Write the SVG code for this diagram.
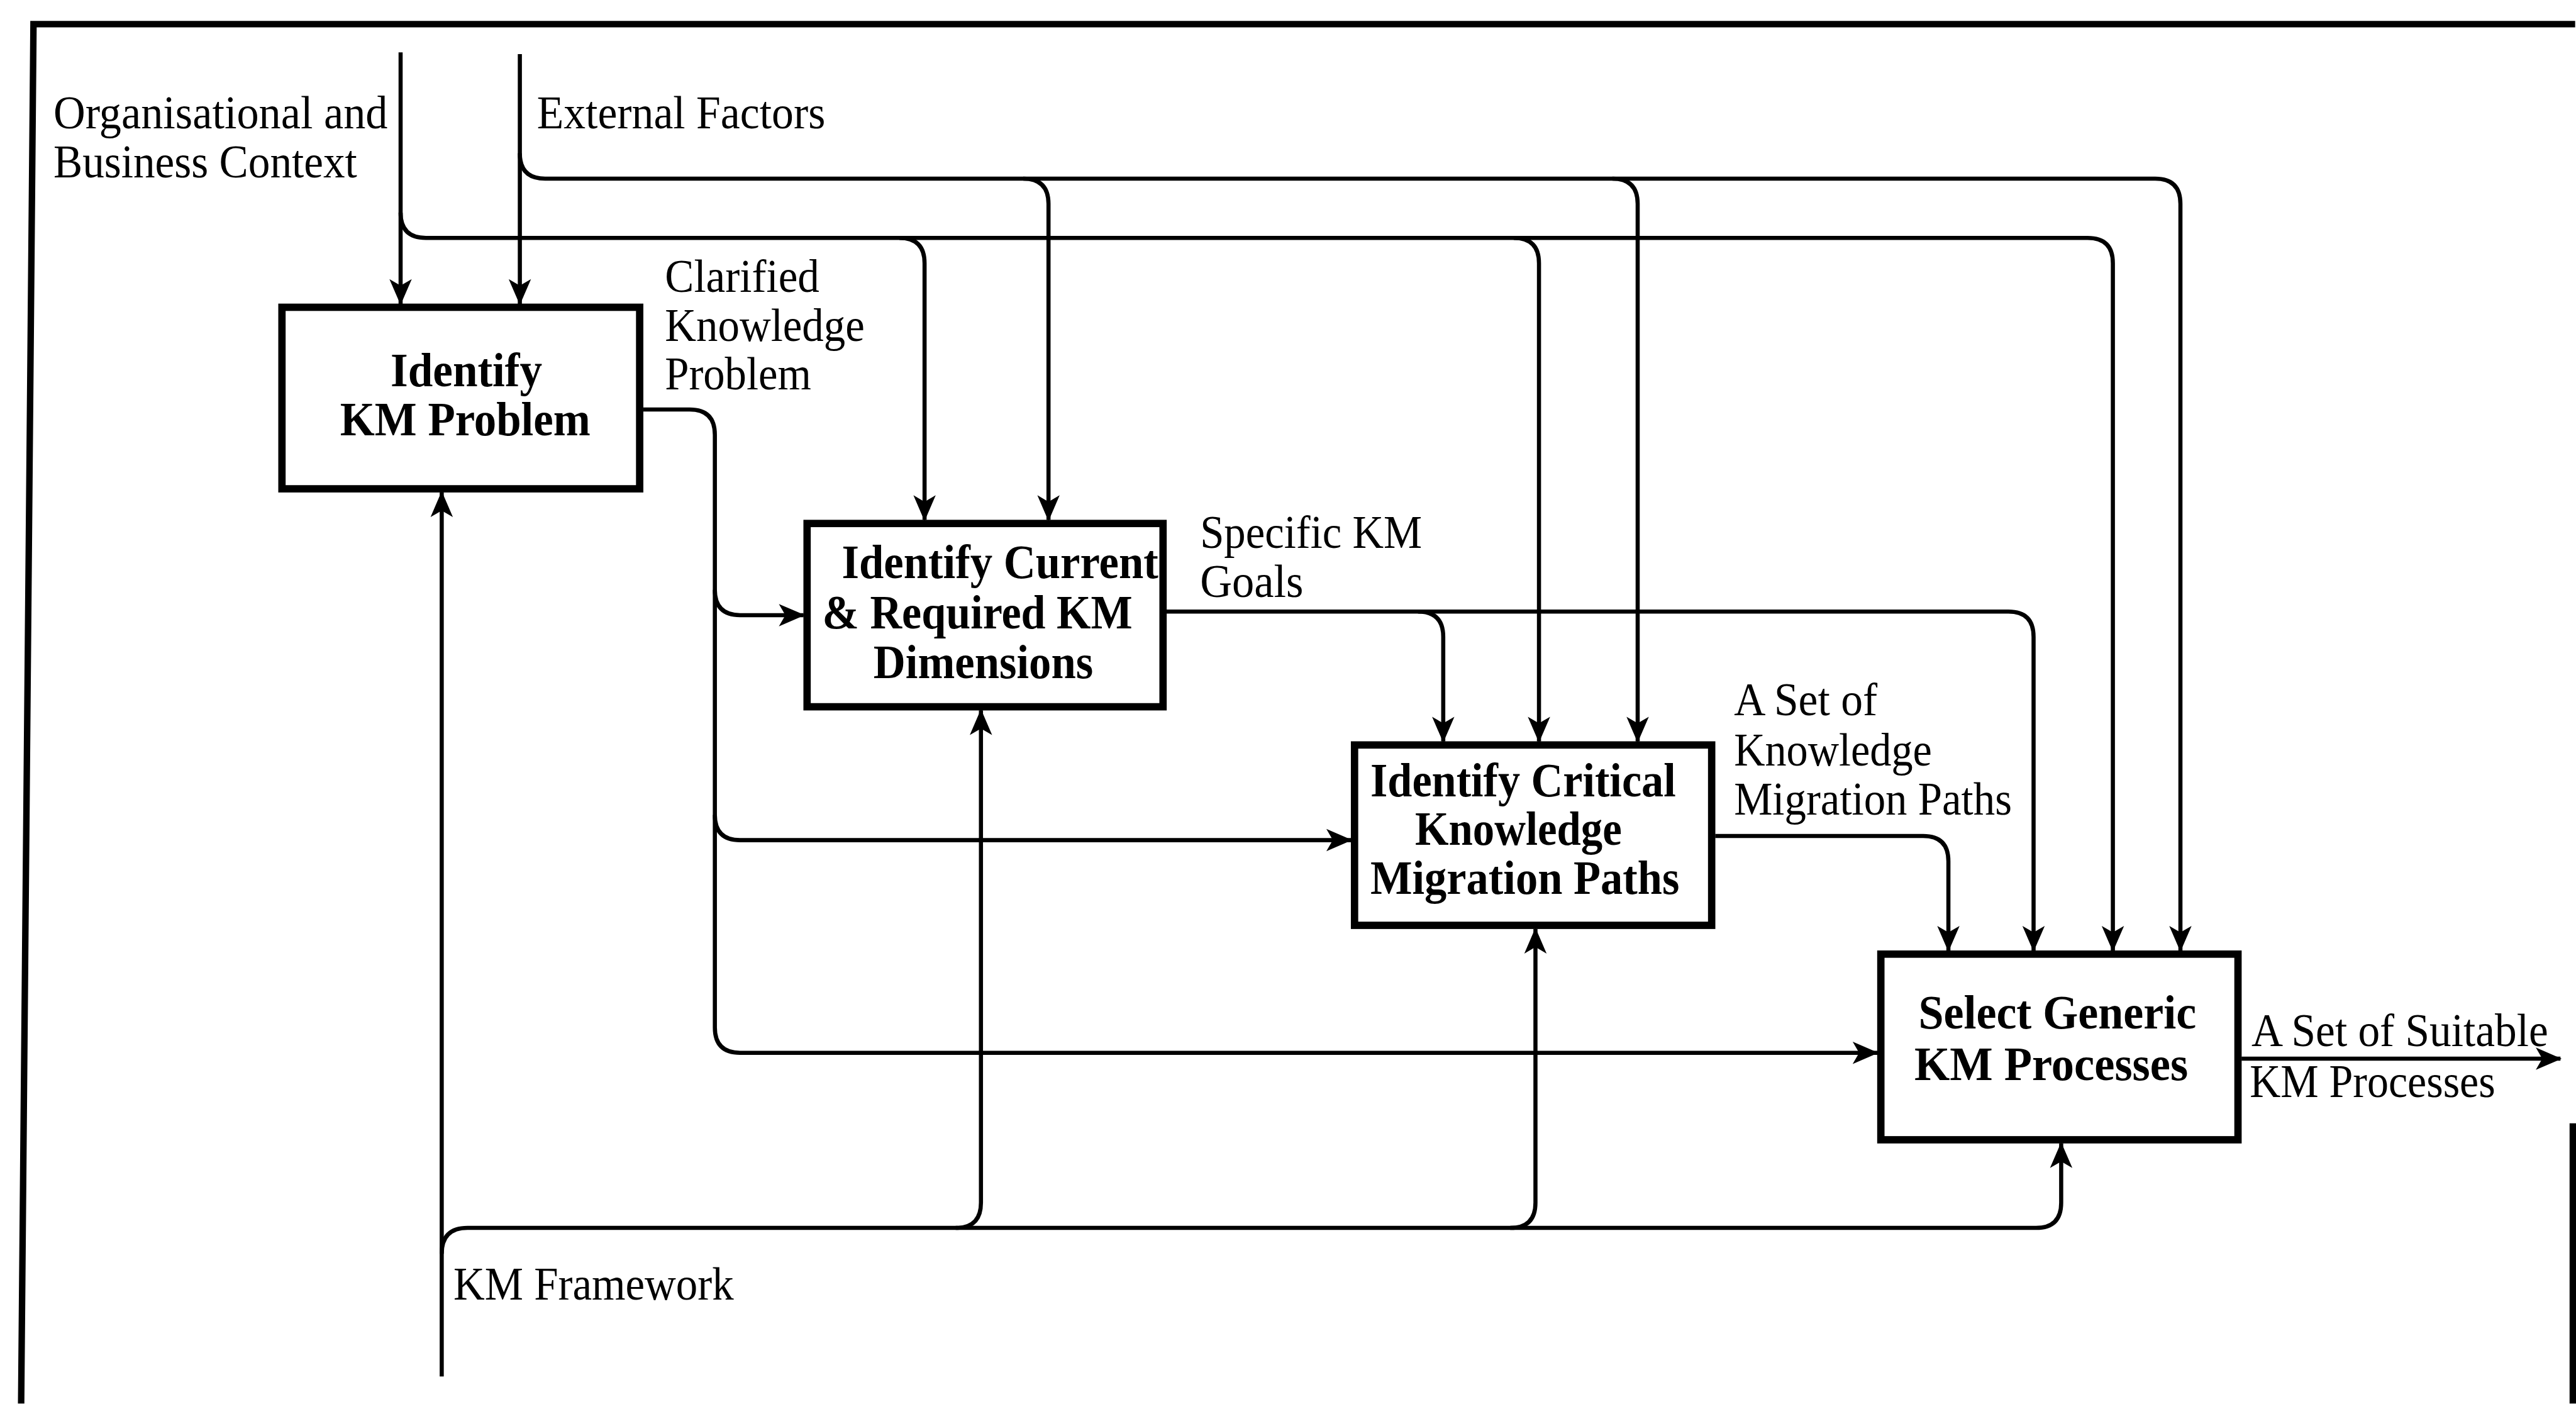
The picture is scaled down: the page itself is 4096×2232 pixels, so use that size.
<svg xmlns="http://www.w3.org/2000/svg" width="4096" height="2232" viewBox="0 0 4096 2232">
  <style>
    .frame { fill: none; stroke: #000; stroke-width: 11; }
    .box { fill: #fff; stroke: #000; stroke-width: 12.5; }
    .wire { fill: none; stroke: #000; stroke-width: 7; stroke-linejoin: round; }
    .arrow { marker-end: url(#ah); }
    .lbl { font-family: "Liberation Serif", "Times New Roman", serif; font-size: 79px; fill: #000; }
    .title { font-family: "Liberation Serif", "Times New Roman", serif; font-size: 81px; font-weight: bold; fill: #000; }
  </style>
  <defs>
    <marker id="ah" markerUnits="userSpaceOnUse" markerWidth="48" markerHeight="44" viewBox="-44 -22 48 44" refX="0" refY="0" orient="auto">
      <path d="M2,0 L-42,-19 L-31,0 L-42,19 Z" fill="#000"/>
    </marker>
  </defs>
  <rect width="4096" height="2232" fill="#fff"/>

  <!-- everything is laid out on a 4384 x 2389 grid and scaled down -->
  <g transform="scale(0.934)">
    <!-- outer frame (cut at bottom and right) -->
    <path class="frame" d="M36,2389 L57,41 L4384,41"/>
    <path class="frame" d="M4380,1912 V2389"/>

    <!-- connectors -->
    <g id="connectors">
      <!-- Organisational and Business Context -->
      <path class="wire arrow" d="M682,89 V517"/>
      <path class="wire arrow" d="M682,362 Q682,405 725,405 H3554 Q3597,405 3597,448 V1618"/>
      <path class="wire arrow" d="M1531,405 Q1574,405 1574,448 V885"/>
      <path class="wire arrow" d="M2577,405 Q2620,405 2620,448 V1262"/>

      <!-- External Factors -->
      <path class="wire arrow" d="M885,92 V517"/>
      <path class="wire arrow" d="M885,261 Q885,304 928,304 H3669 Q3712,304 3712,347 V1618"/>
      <path class="wire arrow" d="M1742,304 Q1785,304 1785,347 V885"/>
      <path class="wire arrow" d="M2745,304 Q2788,304 2788,347 V1262"/>

      <!-- Clarified Knowledge Problem -->
      <path class="wire arrow" d="M1095,697 H1174 Q1217,697 1217,740 V1749 Q1217,1792 1260,1792 H3196"/>
      <path class="wire arrow" d="M1217,1004 Q1217,1047 1260,1047 H1368"/>
      <path class="wire arrow" d="M1217,1387 Q1217,1430 1260,1430 H2300"/>

      <!-- Specific KM Goals -->
      <path class="wire arrow" d="M1986,1041 H3419 Q3462,1041 3462,1084 V1618"/>
      <path class="wire arrow" d="M2414,1041 Q2457,1041 2457,1084 V1262"/>

      <!-- A Set of Knowledge Migration Paths -->
      <path class="wire arrow" d="M2920,1423 H3274 Q3317,1423 3317,1466 V1618"/>

      <!-- A Set of Suitable KM Processes -->
      <path class="wire arrow" d="M3816,1802 H4359"/>

      <!-- KM Framework -->
      <path class="wire arrow" d="M752,2343 V838"/>
      <path class="wire arrow" d="M752,2134 Q752,2090 796,2090 H3466 Q3509,2090 3509,2047 V1946"/>
      <path class="wire arrow" d="M1627,2090 Q1670,2090 1670,2047 V1209"/>
      <path class="wire arrow" d="M2571,2090 Q2614,2090 2614,2047 V1581"/>
    </g>

    <!-- activity boxes -->
    <g id="identify-km-problem">
      <rect class="box" x="480" y="523" width="609" height="309"/>
      <text class="title" x="665" y="657" textLength="258" lengthAdjust="spacingAndGlyphs">Identify</text>
      <text class="title" x="579" y="741" textLength="426" lengthAdjust="spacingAndGlyphs">KM Problem</text>
    </g>
    <g id="identify-dimensions">
      <rect class="box" x="1374" y="891" width="606" height="312"/>
      <text class="title" x="1433" y="984" textLength="539" lengthAdjust="spacingAndGlyphs">Identify Current</text>
      <text class="title" x="1400" y="1070" textLength="528" lengthAdjust="spacingAndGlyphs">&amp; Required KM</text>
      <text class="title" x="1487" y="1154" textLength="374" lengthAdjust="spacingAndGlyphs">Dimensions</text>
    </g>
    <g id="identify-migration-paths">
      <rect class="box" x="2306" y="1268" width="608" height="307"/>
      <text class="title" x="2333" y="1355" textLength="520" lengthAdjust="spacingAndGlyphs">Identify Critical</text>
      <text class="title" x="2409" y="1438" textLength="352" lengthAdjust="spacingAndGlyphs">Knowledge</text>
      <text class="title" x="2333" y="1521" textLength="526" lengthAdjust="spacingAndGlyphs">Migration Paths</text>
    </g>
    <g id="select-km-processes">
      <rect class="box" x="3202" y="1624" width="608" height="316"/>
      <text class="title" x="3266" y="1751" textLength="473" lengthAdjust="spacingAndGlyphs">Select Generic</text>
      <text class="title" x="3259" y="1838" textLength="466" lengthAdjust="spacingAndGlyphs">KM Processes</text>
    </g>

    <!-- flow labels -->
    <g id="labels">
      <text class="lbl" x="91" y="218" textLength="569" lengthAdjust="spacingAndGlyphs">Organisational and</text>
      <text class="lbl" x="91" y="302" textLength="517" lengthAdjust="spacingAndGlyphs">Business Context</text>
      <text class="lbl" x="914" y="218" textLength="491" lengthAdjust="spacingAndGlyphs">External Factors</text>

      <text class="lbl" x="1132" y="497" textLength="263" lengthAdjust="spacingAndGlyphs">Clarified</text>
      <text class="lbl" x="1132" y="580" textLength="340" lengthAdjust="spacingAndGlyphs">Knowledge</text>
      <text class="lbl" x="1132" y="663" textLength="249" lengthAdjust="spacingAndGlyphs">Problem</text>

      <text class="lbl" x="2043" y="933" textLength="378" lengthAdjust="spacingAndGlyphs">Specific KM</text>
      <text class="lbl" x="2043" y="1016" textLength="176" lengthAdjust="spacingAndGlyphs">Goals</text>

      <text class="lbl" x="2952" y="1217" textLength="244" lengthAdjust="spacingAndGlyphs">A Set of</text>
      <text class="lbl" x="2952" y="1303" textLength="337" lengthAdjust="spacingAndGlyphs">Knowledge</text>
      <text class="lbl" x="2952" y="1387" textLength="473" lengthAdjust="spacingAndGlyphs">Migration Paths</text>

      <text class="lbl" x="3833" y="1781" textLength="505" lengthAdjust="spacingAndGlyphs">A Set of Suitable</text>
      <text class="lbl" x="3830" y="1867" textLength="418" lengthAdjust="spacingAndGlyphs">KM Processes</text>

      <text class="lbl" x="772" y="2212" textLength="477" lengthAdjust="spacingAndGlyphs">KM Framework</text>
    </g>
  </g>
</svg>
